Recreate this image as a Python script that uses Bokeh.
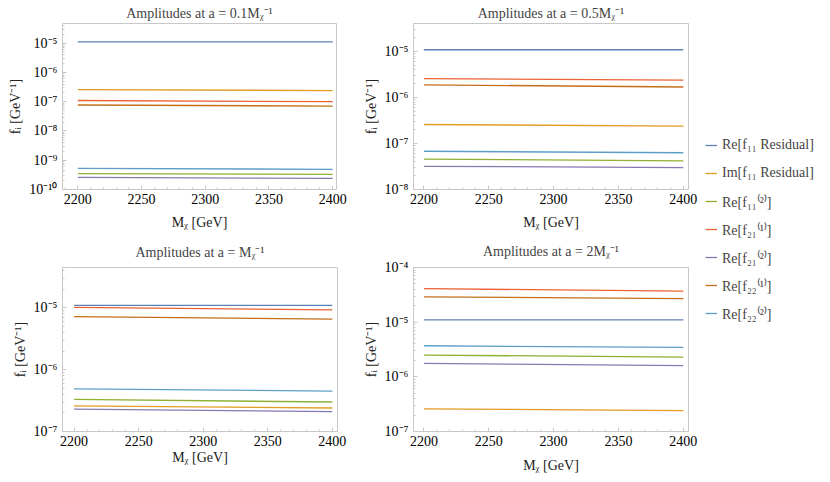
from bokeh.plotting import figure
from bokeh.layouts import row, column
from bokeh.models import FixedTicker, CustomJSTickFormatter, Legend, LegendItem, Range1d
from bokeh.embed import file_html
from bokeh.resources import INLINE

# ---------------- data ----------------
mass = [2200, 2400]

# residual amplitudes (same in every panel)
re_f11_res = [1.1e-5, 1.1e-5]
im_f11_res = [2.6e-7, 2.4e-7]

# a = 0.1 / M_chi
a01_re_f11_2 = [3.5e-10, 3.3e-10]
a01_re_f21_1 = [1.1e-7, 1.0e-7]
a01_re_f21_2 = [2.6e-10, 2.4e-10]
a01_re_f22_1 = [7.7e-8, 7.1e-8]
a01_re_f22_2 = [5.3e-10, 4.9e-10]

# a = 0.5 / M_chi
a05_re_f11_2 = [4.6e-8, 4.2e-8]
a05_re_f21_1 = [2.6e-6, 2.4e-6]
a05_re_f21_2 = [3.2e-8, 3.0e-8]
a05_re_f22_1 = [1.9e-6, 1.7e-6]
a05_re_f22_2 = [6.8e-8, 6.3e-8]

# a = 1 / M_chi
a1_re_f11_2 = [3.3e-7, 3.0e-7]
a1_re_f21_1 = [1.02e-5, 9.3e-6]
a1_re_f21_2 = [2.3e-7, 2.1e-7]
a1_re_f22_1 = [7.2e-6, 6.6e-6]
a1_re_f22_2 = [4.9e-7, 4.5e-7]

# a = 2 / M_chi
a2_re_f11_2 = [2.5e-6, 2.3e-6]
a2_re_f21_1 = [4.1e-5, 3.7e-5]
a2_re_f21_2 = [1.76e-6, 1.6e-6]
a2_re_f22_1 = [2.9e-5, 2.7e-5]
a2_re_f22_2 = [3.7e-6, 3.45e-6]

x_ticks = [2200, 2250, 2300, 2350, 2400]

legend_labels = ["Re[f\u2081\u2081 Residual]", "Im[f\u2081\u2081 Residual]",
                 "Re[f\u2081\u2081\u207d\u00b2\u207e]", "Re[f\u2082\u2081\u207d\u00b9\u207e]",
                 "Re[f\u2082\u2081\u207d\u00b2\u207e]", "Re[f\u2082\u2082\u207d\u00b9\u207e]",
                 "Re[f\u2082\u2082\u207d\u00b2\u207e]"]

titles = ["Amplitudes at a = 0.1M\u1d6a\u207b\u00b9", "Amplitudes at a = 0.5M\u1d6a\u207b\u00b9",
          "Amplitudes at a = M\u1d6a\u207b\u00b9", "Amplitudes at a = 2M\u1d6a\u207b\u00b9"]

colors = ["#5E81B5", "#E19C24", "#8FB032", "#EB6235", "#8778B3", "#C56E1A", "#5D9EC7"]

FONT = "Liberation Serif"
FS = "14px"
FRAME = "#c8c8c8"

SUP = """
const e = Math.round(Math.log10(tick));
const m = {"-":"\u207b","0":"\u2070","1":"\u00b9","2":"\u00b2","3":"\u00b3","4":"\u2074","5":"\u2075","6":"\u2076","7":"\u2077","8":"\u2078","9":"\u2079"};
return "10" + String(e).split("").map(c => m[c]).join("");
"""


def panel(title, series, y_lo, y_hi, dec_lo, dec_hi, x_lo, x_hi, w, h, bl, br, bt, bb,
          title_gap, xlabel_gap):
    p = figure(width=w, height=h, y_axis_type="log",
               x_range=Range1d(x_lo, x_hi), y_range=Range1d(y_lo, y_hi),
               output_backend="svg", toolbar_location=None,
               min_border_left=bl, min_border_right=br, min_border_top=bt, min_border_bottom=bb)
    p.title.text = title
    p.title.align = "center"
    p.title.text_font = FONT
    p.title.text_font_size = FS
    p.title.text_font_style = "normal"
    p.title.standoff = title_gap
    p.grid.visible = False
    p.outline_line_color = FRAME
    p.background_fill_color = "white"
    p.border_fill_color = "white"
    for i, ys in enumerate(series):
        p.line(mass, ys, line_color=colors[i], line_width=1.3)
    majors = [10.0 ** k for k in range(dec_lo, dec_hi + 1)]
    minors = [m * 10.0 ** k for k in range(dec_lo - 1, dec_hi + 1) for m in range(2, 10)]
    p.yaxis.ticker = FixedTicker(ticks=majors, minor_ticks=minors)
    p.yaxis.formatter = CustomJSTickFormatter(code=SUP)
    p.xaxis.ticker = FixedTicker(ticks=x_ticks, minor_ticks=list(range(2190, 2410, 10)))
    for ax in (p.xaxis[0], p.yaxis[0]):
        ax.axis_line_color = FRAME
        ax.major_tick_line_color = FRAME
        ax.minor_tick_line_color = FRAME
        ax.major_tick_in = 4
        ax.major_tick_out = 0
        ax.minor_tick_in = 2
        ax.minor_tick_out = 0
        ax.major_label_text_font = FONT
        ax.major_label_text_font_size = FS
        ax.major_label_text_color = "black"
        ax.axis_label_text_font = FONT
        ax.axis_label_text_font_size = FS
        ax.axis_label_text_font_style = "normal"
        ax.axis_label_text_color = "#222222"
    p.xaxis.axis_label = "M\u1d6a [GeV]"
    p.yaxis.axis_label = "f\u1d62 [GeV\u207b\u00b9]"
    p.xaxis.major_label_standoff = 4
    p.xaxis.axis_label_standoff = xlabel_gap
    p.yaxis.major_label_standoff = 5
    p.yaxis.axis_label_standoff = 3
    return p


s1 = [re_f11_res, im_f11_res, a01_re_f11_2, a01_re_f21_1, a01_re_f21_2, a01_re_f22_1, a01_re_f22_2]
s2 = [re_f11_res, im_f11_res, a05_re_f11_2, a05_re_f21_1, a05_re_f21_2, a05_re_f22_1, a05_re_f22_2]
s3 = [re_f11_res, im_f11_res, a1_re_f11_2, a1_re_f21_1, a1_re_f21_2, a1_re_f22_1, a1_re_f22_2]
s4 = [re_f11_res, im_f11_res, a2_re_f11_2, a2_re_f21_1, a2_re_f21_2, a2_re_f22_1, a2_re_f22_2]

p1 = panel(titles[0], s1, 1e-10, 4.7e-5, -10, -5, 2188, 2403, 353, 232, 62, 17, 21, 43, 6, 8)
p2 = panel(titles[1], s2, 1e-8, 4.1e-5, -8, -5, 2192, 2404, 345, 232, 60, 10, 21, 39, 6, 8)
p3 = panel(titles[2], s3, 1e-7, 4.5e-5, -7, -5, 2191, 2404, 353, 250, 62, 16, 30, 51, 15, 1)
p4 = panel(titles[3], s4, 1e-7, 1e-4, -7, -4, 2192, 2404, 345, 250, 60, 10, 33, 47, 18, 9)

# legend panel: series drawn out of view so that only the legend is visible
lg = figure(width=132, height=482, x_range=Range1d(0, 1), y_range=Range1d(0, 1),
            output_backend="svg", toolbar_location=None,
            min_border_left=0, min_border_right=0, min_border_top=0, min_border_bottom=0)
lg.axis.visible = False
lg.grid.visible = False
lg.outline_line_color = None
items = []
for i, lab in enumerate(legend_labels):
    r = lg.line(mass, s1[i], line_color=colors[i], line_width=1.3)
    items.append(LegendItem(label=lab, renderers=[r]))
leg = Legend(items=items, location=(7, 159), padding=0, margin=0,
             glyph_width=12, glyph_height=20, label_height=20, spacing=8,
             label_standoff=5, label_text_font=FONT, label_text_font_size=FS,
             border_line_color=None, background_fill_alpha=0)
lg.add_layout(leg)

layout = row(column(row(p1, p2), row(p3, p4)), lg)

open("out.html", "w").write(file_html(layout, INLINE))
